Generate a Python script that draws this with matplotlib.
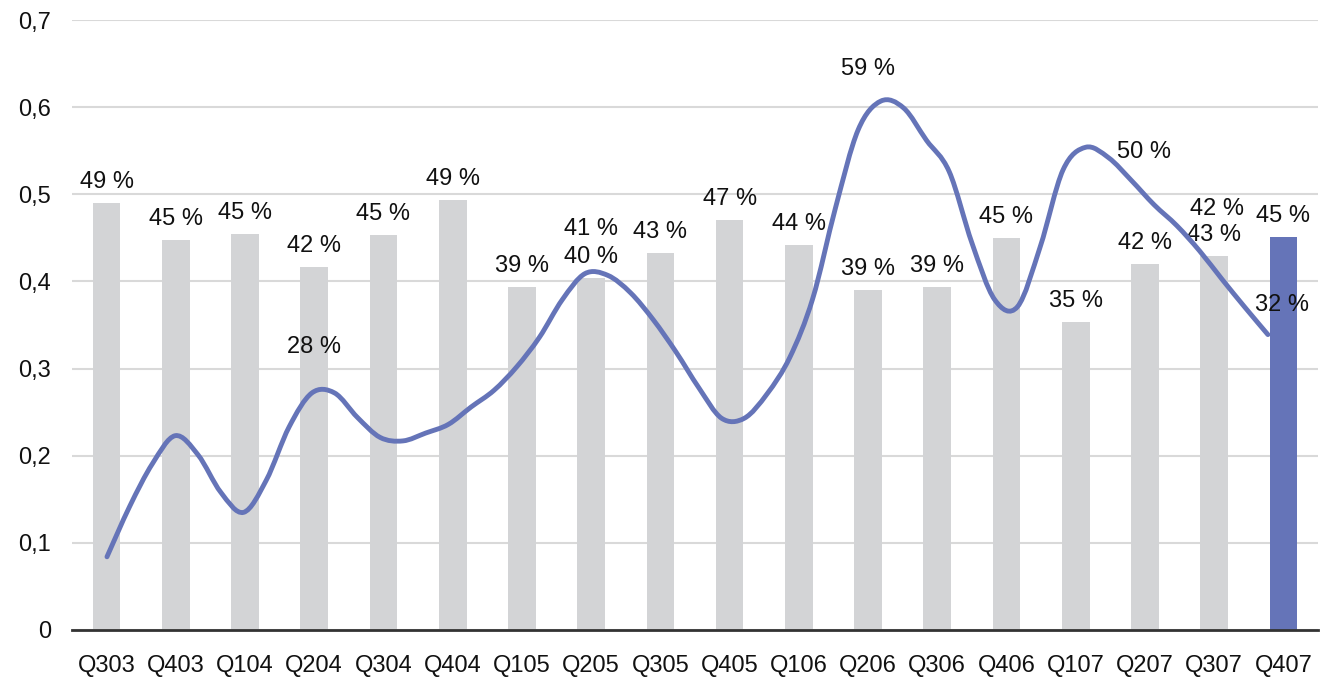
import numpy as np
import matplotlib
matplotlib.use('Agg')
import matplotlib.pyplot as plt
from matplotlib.path import Path
from matplotlib.patches import PathPatch
from matplotlib.ticker import FuncFormatter

quarters = ['Q303', 'Q403', 'Q104', 'Q204', 'Q304', 'Q404', 'Q105', 'Q205', 'Q305',
            'Q405', 'Q106', 'Q206', 'Q306', 'Q406', 'Q107', 'Q207', 'Q307', 'Q407']
bar_values = [0.490, 0.448, 0.454, 0.416, 0.453, 0.494, 0.394, 0.404, 0.433,
              0.471, 0.442, 0.390, 0.394, 0.450, 0.354, 0.420, 0.429, 0.451]

# monthly series drawn as the smoothed line
line_values = [0.084, 0.142, 0.191, 0.223, 0.201, 0.158, 0.135, 0.172, 0.233, 0.272,
               0.272, 0.244, 0.221, 0.217, 0.226, 0.236, 0.256, 0.275, 0.302, 0.336,
               0.379, 0.409, 0.407, 0.387, 0.356, 0.319, 0.278, 0.243, 0.243, 0.271,
               0.313, 0.380, 0.484, 0.574, 0.607, 0.599, 0.562, 0.526, 0.444, 0.379,
               0.371, 0.440, 0.528, 0.554, 0.542, 0.516, 0.488, 0.464, 0.435, 0.402,
               0.370, 0.339]
# labelled points of the line: month index -> text
line_labels = {9: '28 %', 21: '41 %', 34: '59 %', 45: '50 %', 48: '42 %', 51: '32 %'}
label_offsets = {9: (2, 40), 21: (6, 39), 34: (-13, 26), 45: (13, 22), 48: (17, 36), 51: (14, 24)}

grey = '#d3d4d6'
blue = '#6574b8'
plt.rcParams['font.family'] = ['Liberation Sans', 'DejaVu Sans']
plt.rcParams['font.size'] = 17

fig = plt.figure(figsize=(13.23, 6.83), dpi=100)
ax = fig.add_axes([0.0544, 0.0776, 0.9418, 0.8931])

x = np.arange(len(quarters))
colors = [grey] * (len(quarters) - 1) + [blue]
ax.bar(x, bar_values, width=0.4, color=colors, zorder=2)
for xi, v in zip(x, bar_values):
    ax.annotate(f'{v * 100:.0f} %', (xi, v), xytext=(0, 15), textcoords='offset pixels',
                ha='center', va='baseline', color='#111111', zorder=5)

ax.set_xlim(-0.5, len(quarters) - 0.5)
ax.set_ylim(0, 0.7)
ax.set_yticks(np.arange(0, 0.71, 0.1))
ax.yaxis.set_major_formatter(FuncFormatter(lambda v, p: '0' if abs(v) < 1e-9 else f'{v:.1f}'.replace('.', ',')))
ax.set_xticks(x)
ax.set_xticklabels(quarters)
ax.tick_params(axis='both', length=0, colors='#111111')
ax.tick_params(axis='x', pad=18)
ax.tick_params(axis='y', pad=15)
ax.grid(axis='y', color='#d9d9d9', linewidth=1.5, zorder=0)
ax.set_axisbelow(True)
for s in ['top', 'right', 'left']:
    ax.spines[s].set_visible(False)
ax.spines['bottom'].set_color('#333333')
ax.spines['bottom'].set_linewidth(2)

# line on its own monthly x axis
ax2 = ax.twiny()
n = len(line_values)
ax2.set_xlim(-1.538, 53.2)
ax2.set_ylim(0, 0.7)
ax2.axis('off')

pts = np.column_stack([np.arange(n), line_values])
verts = [tuple(pts[0])]
codes = [Path.MOVETO]
for i in range(n - 1):
    p0 = pts[max(i - 1, 0)]
    p1 = pts[i]
    p2 = pts[i + 1]
    p3 = pts[min(i + 2, n - 1)]
    verts += [tuple(p1 + (p2 - p0) / 6), tuple(p2 - (p3 - p1) / 6), tuple(p2)]
    codes += [Path.CURVE4] * 3
ax2.add_patch(PathPatch(Path(verts, codes), fill=False, edgecolor=blue, linewidth=3.5,
                        capstyle='round', joinstyle='round'))

for i, txt in line_labels.items():
    ax2.annotate(txt, (i, line_values[i]), xytext=label_offsets[i], textcoords='offset pixels',
                 ha='center', va='baseline', color='#111111')

plt.savefig('out.png', dpi=100)
